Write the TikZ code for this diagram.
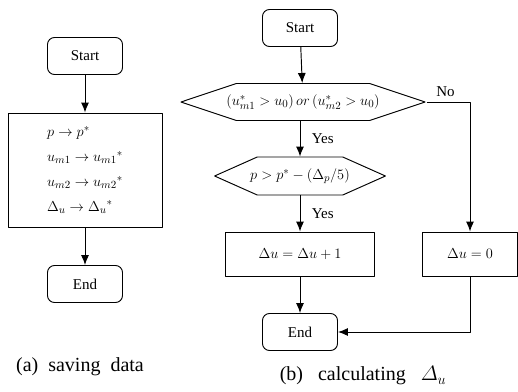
\documentclass[tikz,border=0pt]{standalone}
\usepackage{amsmath}
\usepackage{fontspec}
\setmainfont{Liberation Serif}
\usetikzlibrary{shapes.symbols,arrows.meta}
\begin{document}
\begin{tikzpicture}[x=1pt,y=-1pt,line join=round,>={Latex[length=10pt,width=8pt]},line width=0.95pt,
    font=\fontsize{15}{19}\selectfont,
    term/.style={draw,rounded corners=7pt,minimum width=75pt,minimum height=37pt,inner sep=0pt},
    proc/.style={draw,rectangle,inner sep=0pt},
    test/.style={draw,signal,signal to=east and west,inner ysep=0pt},
    capt/.style={font=\fontsize{20}{24}\selectfont}]
    \useasboundingbox (0,0) rectangle (518,391);
    % (a) saving data
    \node[term] (startA) at (85,56) {Start};
    \node[proc,minimum width=154pt,minimum height=114pt,align=left] (saveA) at (85,170)
        {$p\to p^{*}$\\[6pt] ${u_{m1}}\to{u_{m1}}^{*}$\\[6pt] ${u_{m2}}\to{u_{m2}}^{*}$\\[6pt] ${\Delta_{u}}\to{\Delta_{u}}^{*}$};
    \node[term] (endA) at (85,284) {End};
    \draw[->] (startA) -- (saveA);
    \draw[->] (saveA) -- (endA);
    \node[capt] (captA) at (80,367) {(a)\ \ saving\ \ data};
    % (b) calculating Delta_u
    \node[term] (startB) at (300,28) {Start};
    \node[test,signal pointer angle=37,inner xsep=-10pt,minimum height=37pt] (condB) at (303,102)
        {$\left(u_{m1}^{*}>u_{0}\right)or\left(u_{m2}^{*}>u_{0}\right)$};
    \node[test,signal pointer angle=48,inner xsep=-7pt,minimum height=38pt] (checkB) at (300,176)
        {$p>p^{*}-\left(\Delta_{p}/5\right)$};
    \node[proc,minimum width=149pt,minimum height=44pt] (incB) at (300,254) {$\Delta u=\Delta u+1$};
    \node[proc,minimum width=95pt,minimum height=44pt] (zeroB) at (470,254) {$\Delta u=0$};
    \node[term] (endB) at (300,332) {End};
    \draw[->] (startB) -- (condB);
    \draw[->] (condB.south-|startB) -- (checkB.north-|startB) node[midway,right=8pt] {Yes};
    \draw[->] (checkB.south-|startB) -- (incB.north-|startB) node[midway,right=8pt] {Yes};
    \draw[->] (incB.south-|startB) -- (endB);
    \draw[->] (condB.east) -| (zeroB.north) node[pos=0,anchor=south west,xshift=6pt,yshift=2pt] {No};
    \draw[->] (zeroB.south) |- (endB.east);
    \node[capt] (captB) at (363,376) {(b)\ \ \ calculating\ \ \ $\varDelta_{u}$};
\end{tikzpicture}
\end{document}
